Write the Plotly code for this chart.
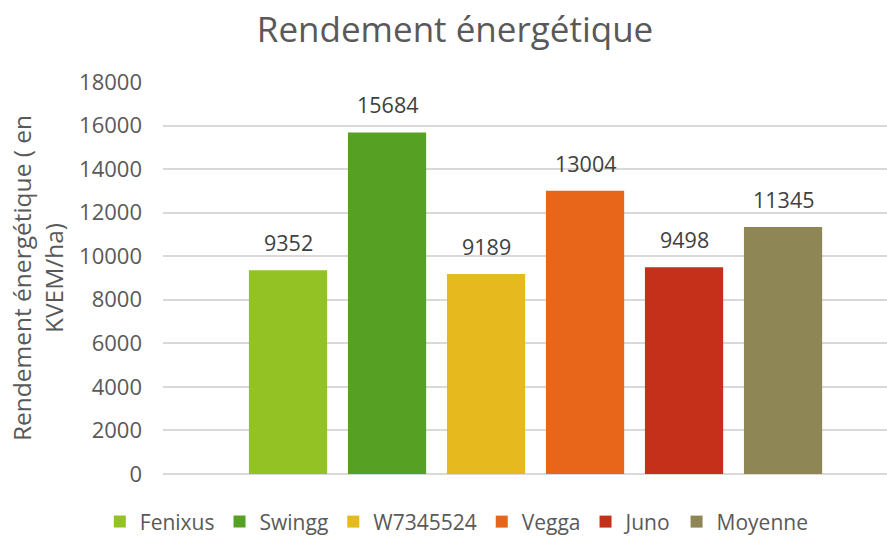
import plotly.graph_objects as go

categories = ["Fenixus", "Swingg", "W7345524", "Vegga", "Juno", "Moyenne"]
values = [9352, 15684, 9189, 13004, 9498, 11345]
colors = ["#93C225", "#56A123", "#E6B91F", "#E7661A", "#C4301A", "#8F8656"]
y_ticks = [0, 2000, 4000, 6000, 8000, 10000, 12000, 14000, 16000, 18000]

FONT = "Open Sans"
GREY = "#595959"

fig = go.Figure()
for name, val, col in zip(categories, values, colors):
    fig.add_trace(go.Bar(
        x=[name], y=[val], name=name, marker=dict(color=col, line=dict(width=0)),
        width=0.79, hoverinfo="x+y",
    ))
    fig.add_annotation(
        x=name, y=val, text=str(val), showarrow=False, yanchor="bottom",
        yshift=11, font=dict(family=FONT, size=21.5, color="#404040"),
    )

fig.update_layout(
    width=887, height=537,
    margin=dict(l=163, r=0, t=82, b=63, autoexpand=False),
    paper_bgcolor="white", plot_bgcolor="white",
    barmode="overlay",
    font=dict(family=FONT, size=21, color=GREY),
    title=dict(text="Rendement énergétique", x=0.513, xref="container",
               xanchor="center", y=0.945, yref="container", yanchor="middle",
               font=dict(family=FONT, size=35, color=GREY)),
    showlegend=True,
    legend=dict(orientation="h", xref="container", x=0.515, xanchor="center",
                yref="container", y=0.028, yanchor="middle",
                font=dict(family=FONT, size=21, color=GREY),
                itemwidth=30, traceorder="normal"),
    xaxis=dict(type="category", categoryorder="array", categoryarray=categories,
               range=[-1.263, 6.05], showticklabels=False, showgrid=False,
               zeroline=False, showline=False, ticks=""),
    yaxis=dict(range=[0, 18000], tickvals=y_ticks, tickformat="d",
               showgrid=True, gridcolor="#D9D9D9", gridwidth=1.5,
               zeroline=True, zerolinecolor="#D9D9D9", zerolinewidth=1.5,
               showline=False, ticks="", ticklabelstandoff=20,
               tickfont=dict(family=FONT, size=22, color=GREY),
               title=dict(text="Rendement énergétique ( en<br>KVEM/ha)",
                          standoff=8,
                          font=dict(family=FONT, size=24.5, color=GREY))),
)

fig.write_html("out.html", config={"displayModeBar": False},
               post_script="document.body.style.margin='0';document.body.style.overflow='hidden';")
